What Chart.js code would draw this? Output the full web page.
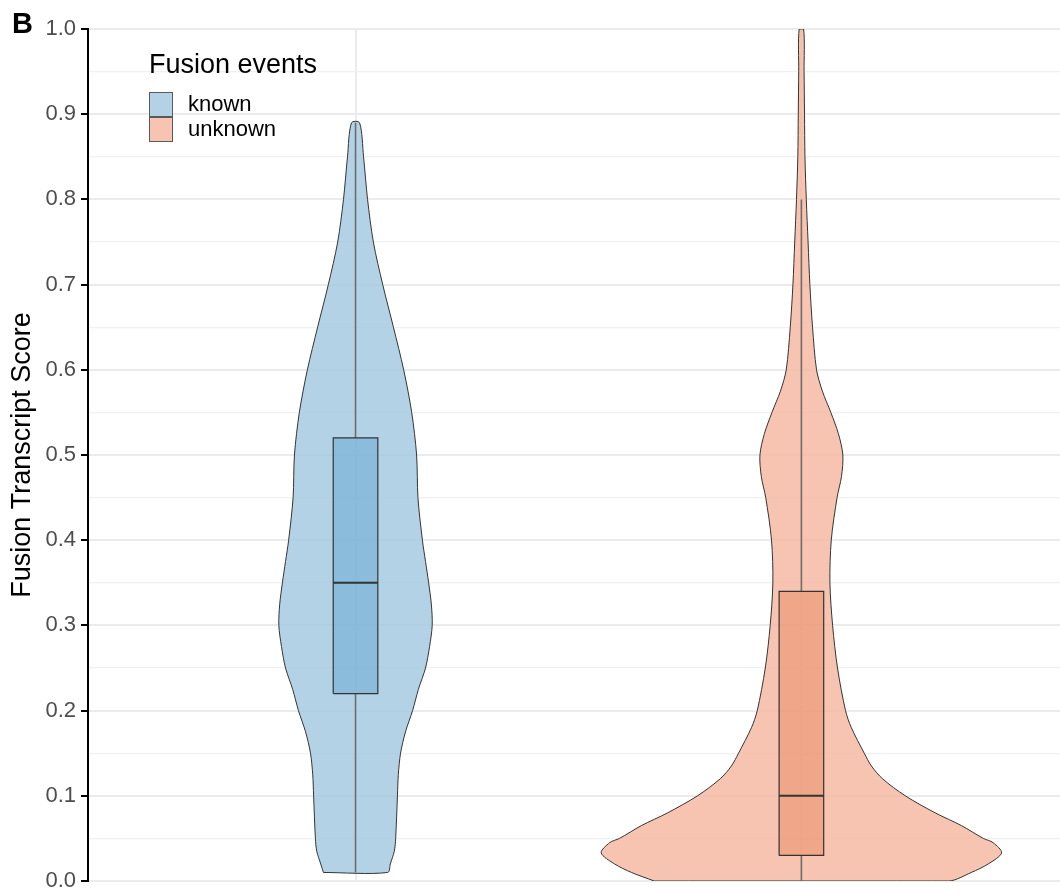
<!DOCTYPE html>
<html><head><meta charset="utf-8">
<script src="https://cdn.jsdelivr.net/npm/chart.js@4.4.1/dist/chart.umd.min.js"></script>
<style>
html,body{margin:0;padding:0;background:#fff;}
#wrap{position:relative;width:1060px;height:893px;font-family:'Liberation Sans',Arial,Helvetica,sans-serif;color:#000;}
#c{position:absolute;left:0;top:0;}
.t{position:absolute;white-space:nowrap;line-height:1;}
.key{position:absolute;width:24px;height:25px;box-sizing:border-box;border:1px solid #5a5a5a;}
</style></head><body>
<div id="wrap">
<canvas id="c" width="1060" height="893"></canvas>
<div class="t" style="left:12px;top:9px;font-size:29px;font-weight:bold;">B</div>
<div id="legend"></div>
</div>
<script>
// ---- data ----
const categories = ['known', 'unknown'];
const legendTitle = 'Fusion events';
const yAxisTitle = 'Fusion Transcript Score';
const yTickLabels = ['0.0','0.1','0.2','0.3','0.4','0.5','0.6','0.7','0.8','0.9','1.0'];

// violin outlines: score levels and half-width of the density (in category-axis units)
const knownY =        [0.01, 0.02, 0.035, 0.05, 0.10, 0.125, 0.15, 0.175, 0.20, 0.225, 0.25, 0.275, 0.30, 0.325, 0.35, 0.375, 0.40, 0.45, 0.50, 0.55, 0.60, 0.65, 0.70, 0.75, 0.80, 0.85, 0.89];
const knownHalfWidth = [0.072,0.078,0.087, 0.090,0.094,0.096, 0.101,0.112, 0.128,0.141, 0.157,0.166, 0.172,0.170, 0.164,0.157, 0.150,0.140,0.137,0.126,0.108,0.085,0.061,0.040,0.027,0.018,0.009];

const unknownY =        [0.0,  0.01, 0.02, 0.033, 0.045, 0.05, 0.065, 0.08, 0.10, 0.12, 0.135, 0.15, 0.18, 0.20, 0.25, 0.30, 0.35, 0.40, 0.45, 0.475, 0.50, 0.525, 0.55, 0.575, 0.60, 0.65, 0.70, 0.75, 0.80, 0.85, 0.90, 0.95, 1.0];
const unknownHalfWidth = [0.330,0.381,0.419,0.449, 0.430, 0.408,0.359, 0.300,0.233,0.182,0.157, 0.141,0.112,0.099,0.081,0.070,0.064,0.067,0.080,0.090, 0.093,0.083, 0.066,0.047, 0.034,0.025,0.019,0.015,0.011,0.008,0.007,0.006,0.005];

// box statistics: [lower whisker, Q1, median, Q3, upper whisker]
const knownBox =   [0.01, 0.22, 0.35, 0.52, 0.89];
const unknownBox = [0.00, 0.03, 0.10, 0.34, 0.80];

// ---- styles ----
const violinFill = ['rgba(166,202,224,0.85)', 'rgba(244,186,162,0.85)'];
const boxFill = ['rgba(99,166,209,0.5)', 'rgba(234,136,96,0.5)'];
const keyColor = ['#b3d2e5', '#f6c4b0'];
const boxHalf = 0.05;

function violinPoly(c, ys, hws) {
  const pts = [];
  for (let i = 0; i < ys.length; i++) pts.push({x: c - hws[i], y: ys[i]});
  for (let i = ys.length - 1; i >= 0; i--) pts.push({x: c + hws[i], y: ys[i]});
  pts.push({x: c - hws[0], y: ys[0]});
  return pts;
}
function boxPoly(c, b) {
  return [{x:c-boxHalf,y:b[1]},{x:c-boxHalf,y:b[3]},{x:c+boxHalf,y:b[3]},{x:c+boxHalf,y:b[1]},{x:c-boxHalf,y:b[1]}];
}
function whiskers(c, b) {
  return [{x:c,y:b[0]},{x:c,y:b[1]},{x:c,y:null},{x:c,y:b[3]},{x:c,y:b[4]}];
}
function medianLine(c, b) {
  return [{x:c-boxHalf,y:b[2]},{x:c+boxHalf,y:b[2]}];
}

const base = {type:'line', pointRadius:0, pointHoverRadius:0, tension:0, spanGaps:false};
const groups = [[knownY, knownHalfWidth, knownBox], [unknownY, unknownHalfWidth, unknownBox]];
const datasets = [];
groups.forEach((g, i) => {
  const c = i + 1;
  datasets.push(Object.assign({}, base, {label: categories[i] + ' violin', data: violinPoly(c, g[0], g[1]), fill: 'shape', tension: 0.3, backgroundColor: violinFill[i], borderColor: '#333333', borderWidth: 1, order: 4}));
  datasets.push(Object.assign({}, base, {label: categories[i] + ' whisker', data: whiskers(c, g[2]), fill: false, borderColor: '#6e6e6e', borderWidth: 1.6, order: 3}));
  datasets.push(Object.assign({}, base, {label: categories[i] + ' box', data: boxPoly(c, g[2]), fill: 'shape', backgroundColor: boxFill[i], borderColor: '#333333', borderWidth: 1.2, order: 2}));
  datasets.push(Object.assign({}, base, {label: categories[i] + ' median', data: medianLine(c, g[2]), fill: false, borderColor: '#333333', borderWidth: 2, order: 1}));
});

const isMajor = v => Math.abs(Math.round(v * 100) % 10) === 0;

new Chart(document.getElementById('c'), {
  type: 'line',
  data: {datasets},
  options: {
    responsive: false,
    animation: false,
    devicePixelRatio: 1,
    layout: {padding: {top: 29, bottom: 12, left: 0, right: 0}},
    plugins: {legend: {display: false}, tooltip: {enabled: false}},
    events: [],
    scales: {
      x: {
        type: 'linear', min: 0.4, max: 2.58,
        afterBuildTicks: s => { s.ticks = categories.map((_, i) => ({value: i + 1})); },
        ticks: {display: false},
        grid: {color: '#ebebeb', lineWidth: 2, drawTicks: false},
        border: {display: false},
        afterFit: s => { s.height = 0; s.paddingLeft = 0; s.paddingRight = 0; }
      },
      y: {
        type: 'linear', min: 0, max: 1,
        ticks: {
          stepSize: 0.05, autoSkip: false, padding: 5, color: '#4d4d4d',
          font: {family: "'Liberation Sans', Arial, sans-serif", size: 22},
          callback: v => isMajor(v) ? yTickLabels[Math.round(v * 10)] : ''
        },
        grid: {
          color: ctx => isMajor(ctx.tick.value) ? '#ebebeb' : '#f0f0f0',
          lineWidth: ctx => isMajor(ctx.tick.value) ? 2 : 1.2,
          tickColor: ctx => isMajor(ctx.tick.value) ? '#000000' : 'rgba(0,0,0,0)',
          tickWidth: 2, tickLength: 7
        },
        border: {display: true, color: '#000000', width: 2},
        title: {display: true, text: yAxisTitle, color: '#000000', padding: {top: 6, bottom: 0},
          font: {family: "'Liberation Sans', Arial, sans-serif", size: 27}},
        afterFit: s => { s.width = 88; s.paddingTop = 0; s.paddingBottom = 0; }
      }
    }
  }
});

// legend (HTML text)
const lg = document.getElementById('legend');
let html = '<div class="t" style="left:149px;top:51px;font-size:27px;">' + legendTitle + '</div>';
categories.forEach((cat, i) => {
  const top = 92 + i * 25;
  html += '<div class="key" style="left:149px;top:' + top + 'px;background:' + keyColor[i] + '"></div>';
  html += '<div class="t" style="left:188px;top:' + (top + 1) + 'px;font-size:22px;">' + cat + '</div>';
});
lg.innerHTML = html;
</script>
</body></html>
